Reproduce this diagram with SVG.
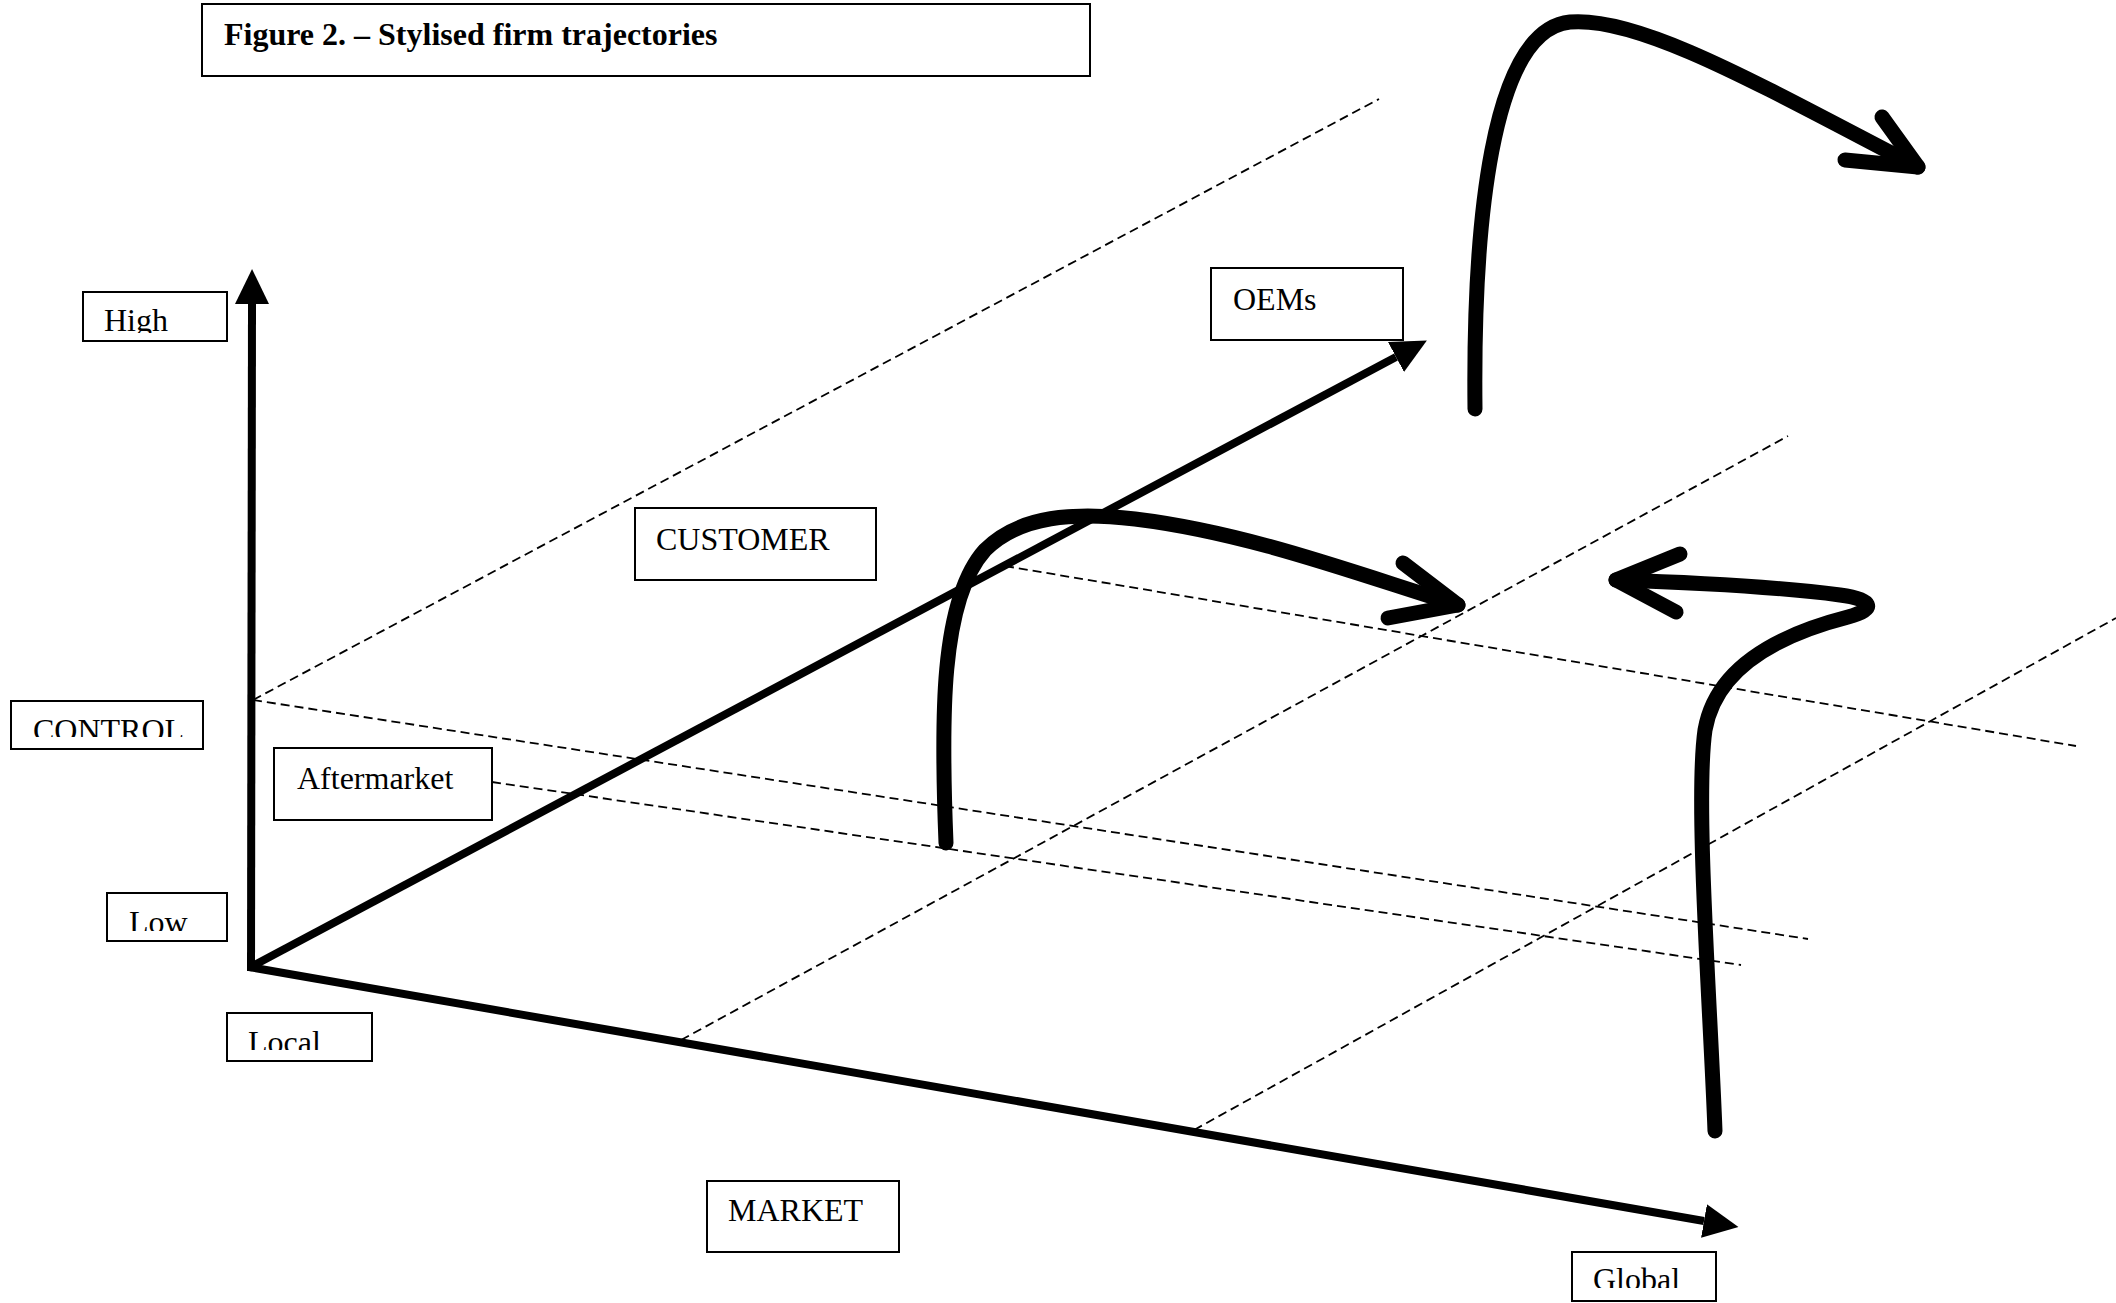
<svg xmlns="http://www.w3.org/2000/svg" width="2116" height="1303" viewBox="0 0 2116 1303">
<style>
.box{fill:#fff;stroke:#000;stroke-width:2}
.lbl{font-family:"Liberation Serif","Times New Roman",serif;font-size:32px;fill:#000}
.ttl{font-family:"Liberation Serif","Times New Roman",serif;font-size:32px;font-weight:bold;fill:#000}
.axis{stroke:#000;stroke-width:8;fill:none}
.dash{stroke:#000;stroke-width:1.8;fill:none;stroke-dasharray:9 5}
.traj{stroke:#000;stroke-width:15;fill:none;stroke-linecap:round;stroke-linejoin:round}
</style>
<defs>
<marker id="ah" markerUnits="userSpaceOnUse" viewBox="0 0 35 34" refX="0" refY="17" markerWidth="35" markerHeight="34" orient="auto">
<path d="M0,0 L35,17 L0,34 Z" fill="#000"/>
</marker>
<clipPath id="cHigh"><rect x="83" y="292" width="144" height="41"/></clipPath>
<clipPath id="cControl"><rect x="11" y="701" width="192" height="36"/></clipPath>
<clipPath id="cLow"><rect x="107" y="893" width="120" height="38"/></clipPath>
<clipPath id="cLocal"><rect x="227" y="1013" width="145" height="37"/></clipPath>
<clipPath id="cGlobal"><rect x="1572" y="1252" width="144" height="36"/></clipPath>
</defs>

<g id="connectors">
<line class="dash" x1="253" y1="700" x2="1379" y2="99"/>
<line class="dash" x1="253" y1="700" x2="1808" y2="939"/>
<line class="dash" x1="492" y1="782" x2="1741" y2="965"/>
<line class="dash" x1="1005" y1="566" x2="2076" y2="746"/>
<line class="dash" x1="681" y1="1040" x2="1788" y2="436"/>
<line class="dash" x1="1194" y1="1130" x2="2116" y2="618"/>
<line class="axis" x1="251" y1="971" x2="252" y2="304" marker-end="url(#ah)"/>
<line class="axis" x1="249" y1="968" x2="1396" y2="357" marker-end="url(#ah)"/>
<line class="axis" x1="249" y1="967" x2="1704" y2="1221" marker-end="url(#ah)"/>
<path class="traj" d="M946,843 C941,720 940,600 985,550 C1020,515 1075,512 1135,519 C1250,533 1360,575 1458,605"/>
<path class="traj" d="M1403,563 L1458,605 L1388,618"/>
<path class="traj" d="M1475,409 C1473,230 1490,30 1570,22 C1640,16 1760,85 1918,167"/>
<path class="traj" d="M1882,117 L1918,167 L1845,160"/>
<path class="traj" d="M1715,1131 C1710,1000 1695,800 1705,730 C1715,672 1770,637 1848,617 C1878,609 1872,599 1840,595 C1770,586 1680,582 1616,580"/>
<path class="traj" d="M1680,554 L1616,580 L1676,612"/>
</g>

<g id="title">
<rect class="box" x="202" y="4" width="888" height="72"/>
<text class="ttl" x="224" y="45">Figure 2. – Stylised firm trajectories</text>
</g>
<g id="high">
<rect class="box" x="83" y="292" width="144" height="49"/>
<text class="lbl" x="104" y="331" clip-path="url(#cHigh)">High</text>
</g>
<g id="control">
<rect class="box" x="11" y="701" width="192" height="48"/>
<text class="lbl" x="33" y="741" clip-path="url(#cControl)">CONTROL</text>
</g>
<g id="low">
<rect class="box" x="107" y="893" width="120" height="48"/>
<text class="lbl" x="129" y="933" clip-path="url(#cLow)">Low</text>
</g>
<g id="local">
<rect class="box" x="227" y="1013" width="145" height="48"/>
<text class="lbl" x="248" y="1053" clip-path="url(#cLocal)">Local</text>
</g>
<g id="global">
<rect class="box" x="1572" y="1252" width="144" height="49"/>
<text class="lbl" x="1593" y="1290" clip-path="url(#cGlobal)">Global</text>
</g>
<g id="aftermarket">
<rect class="box" x="274" y="748" width="218" height="72"/>
<text class="lbl" x="297" y="789">Aftermarket</text>
</g>
<g id="customer">
<rect class="box" x="635" y="508" width="241" height="72"/>
<text class="lbl" x="656" y="550">CUSTOMER</text>
</g>
<g id="oems">
<rect class="box" x="1211" y="268" width="192" height="72"/>
<text class="lbl" x="1233" y="310">OEMs</text>
</g>
<g id="market">
<rect class="box" x="707" y="1181" width="192" height="71"/>
<text class="lbl" x="728" y="1221">MARKET</text>
</g>
</svg>
